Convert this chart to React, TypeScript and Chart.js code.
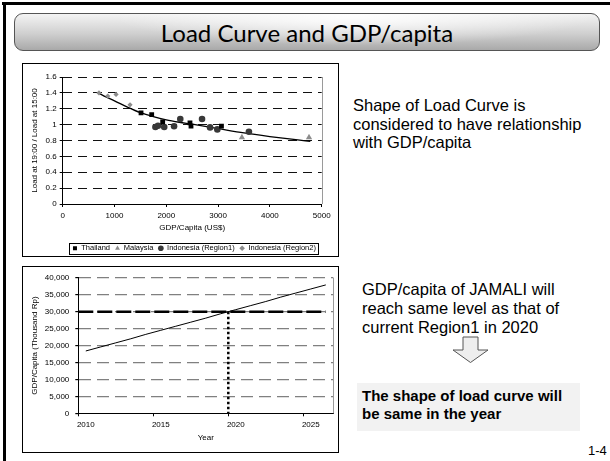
import React, { useEffect, useRef } from 'react';
import { Chart, registerables } from 'chart.js';

Chart.register(...registerables);

// ---------- Chart 1: Load ratio vs GDP/capita ----------
const legendLabels = ['Thailand', 'Malaysia', 'Indonesia (Region1)', 'Indonesia (Region2)'];
const thailandX = [1512, 1718, 1930, 2457, 2477, 3065];
const thailandY = [1.147, 1.125, 1.035, 1.022, 0.98, 0.98];
const malaysiaX = [3460, 4755];
const malaysiaY = [0.84, 0.84];
const region1X = [1790, 1840, 1960, 2150, 2270, 2690, 2845, 2985, 3595];
const region1Y = [0.97, 0.985, 0.97, 0.98, 1.07, 1.07, 0.965, 0.94, 0.91];
const region2X = [700, 870, 1030, 1300];
const region2Y = [1.4, 1.36, 1.38, 1.25];
const trendX = [680, 800, 1000, 1250, 1500, 1750, 2000, 2250, 2500, 3000, 3500, 4000, 4500, 4780];
const trendY = [1.4, 1.36, 1.3, 1.22, 1.15, 1.1, 1.06, 1.03, 1.005, 0.95, 0.895, 0.85, 0.81, 0.79];
const xTicks1 = [0, 1000, 2000, 3000, 4000, 5000];
const yTicks1 = [0, 0.2, 0.4, 0.6, 0.8, 1, 1.2, 1.4, 1.6];

// ---------- Chart 2: GDP/capita projection ----------
const years = [2010, 2011, 2012, 2013, 2014, 2015, 2016, 2017, 2018, 2019, 2020, 2021, 2022, 2023, 2024, 2025, 2026];
const gdpValues = [18400, 19600, 20800, 22000, 23300, 24500, 25700, 26900, 28100, 29400, 30600, 31800, 33000, 34300, 35500, 36700, 37900];
const labeledYears = [2010, 2015, 2020, 2025];
const yTicks2 = [0, 5000, 10000, 15000, 20000, 25000, 30000, 35000, 40000];
const levelValue = 30000;
const levelX = [2009.5, 2026];
const crossYear = 2019.5;

const pts = (xs: number[], ys: number[]) => xs.map((x, i) => ({ x, y: ys[i] }));

const FONT_FAMILY = "'Liberation Sans', Arial, sans-serif";
const font = { family: FONT_FAMILY, size: 8 };

const rightBorderPlugin = {
  id: 'rightBorder',
  beforeDatasetsDraw(chart: any) {
    const { ctx, chartArea } = chart;
    ctx.save();
    ctx.strokeStyle = '#9a9a9a';
    ctx.lineWidth = 1;
    ctx.beginPath();
    ctx.moveTo(Math.round(chartArea.right) + 0.5, chartArea.top);
    ctx.lineTo(Math.round(chartArea.right) + 0.5, chartArea.bottom);
    ctx.stroke();
    ctx.restore();
  },
};

const legendBoxPlugin = {
  id: 'legendBox',
  afterLayout(chart: any) {
    const lg = chart.legend;
    if (lg && chart.chartArea) {
      lg.left = chart.chartArea.left + 2;
      lg.right = chart.chartArea.right + 2;
    }
  },
  afterDraw(chart: any) {
    const lg = chart.legend;
    if (!lg || !lg.legendHitBoxes || !lg.legendHitBoxes.length) return;
    const hb = lg.legendHitBoxes;
    const left = Math.min(...hb.map((h: any) => h.left)) - 3;
    const right = Math.max(...hb.map((h: any) => h.left + h.width)) + 3;
    const top = hb[0].top - 1.5;
    const bottom = hb[0].top + hb[0].height + 1.5;
    const { ctx } = chart;
    ctx.save();
    ctx.strokeStyle = '#000';
    ctx.lineWidth = 1;
    ctx.strokeRect(Math.round(left) + 0.5, Math.round(top) + 0.5, Math.round(right - left), Math.round(bottom - top));
    ctx.restore();
  },
};

function LoadChart() {
  const ref = useRef<HTMLCanvasElement | null>(null);
  useEffect(() => {
    if (!ref.current) return;
    const chart = new Chart(ref.current, {
      type: 'scatter',
      data: {
        datasets: [
          { label: legendLabels[0], data: pts(thailandX, thailandY), pointStyle: 'rect', pointRadius: 3.4, backgroundColor: '#000', borderColor: '#000', borderWidth: 0 },
          { label: legendLabels[1], data: pts(malaysiaX, malaysiaY), pointStyle: 'triangle', pointRadius: 3.6, backgroundColor: '#8c8c8c', borderColor: '#8c8c8c', borderWidth: 0 },
          { label: legendLabels[2], data: pts(region1X, region1Y), pointStyle: 'circle', pointRadius: 3.3, backgroundColor: '#383838', borderColor: '#383838', borderWidth: 0 },
          { label: legendLabels[3], data: pts(region2X, region2Y), pointStyle: 'rectRot', pointRadius: 2.6, backgroundColor: '#8c8c8c', borderColor: '#8c8c8c', borderWidth: 0 },
          { type: 'line', label: 'trend', data: pts(trendX, trendY), borderColor: '#000', borderWidth: 1.3, pointRadius: 0, tension: 0.4, cubicInterpolationMode: 'monotone', fill: false } as any,
        ],
      },
      options: {
        animation: false,
        responsive: true,
        maintainAspectRatio: false,
        layout: { padding: { left: 0, right: 16.3, top: 13, bottom: 0 } },
        plugins: {
          tooltip: { enabled: false },
          legend: {
            position: 'bottom',
            align: 'center',
            labels: {
              font: { family: FONT_FAMILY, size: 7.5 },
              color: '#000',
              usePointStyle: true,
              boxWidth: 5,
              boxHeight: 4,
              padding: 5,
              filter: (item: any) => item.datasetIndex < 4,
            },
          },
        },
        scales: {
          x: {
            type: 'linear',
            min: 0,
            max: 5000,
            afterBuildTicks: (s: any) => { s.ticks = xTicks1.map((v) => ({ value: v })); },
            afterFit: (s: any) => { s.height = 35.5; },
            ticks: { font, color: '#000', padding: 4.2, maxRotation: 0, callback: (v: any) => String(v) },
            grid: { drawOnChartArea: false, tickLength: 3, color: '#000' },
            border: { color: '#000', width: 1 },
            title: { display: true, text: 'GDP/Capita (US$)', font, color: '#000', padding: { top: 0, bottom: 6.7 } },
          },
          y: {
            type: 'linear',
            min: 0,
            max: 1.6,
            afterBuildTicks: (s: any) => { s.ticks = yTicks1.map((v) => ({ value: v })); },
            afterFit: (s: any) => { s.width = 39.7; },
            ticks: { font, color: '#000', padding: 3, callback: (v: any) => String(v) },
            grid: {
              color: (c: any) => (c.tick && c.tick.value === 0 ? 'rgba(0,0,0,0)' : '#111'),
              tickColor: '#000',
              tickLength: 3,
              lineWidth: 1,
            },
            border: { color: '#000', width: 1, dash: [9, 6] },
            title: { display: true, text: 'Load at 19:00 / Load at 15:00', font, color: '#000', padding: { top: 7, bottom: 0 } },
          },
        },
      } as any,
      plugins: [rightBorderPlugin, legendBoxPlugin],
    });
    return () => chart.destroy();
  }, []);
  return <canvas ref={ref} />;
}

function GdpChart() {
  const ref = useRef<HTMLCanvasElement | null>(null);
  useEffect(() => {
    if (!ref.current) return;
    const chart = new Chart(ref.current, {
      type: 'line',
      data: {
        datasets: [
          { label: 'GDP/capita', data: pts(years, gdpValues), borderColor: '#000', borderWidth: 1, pointRadius: 0, tension: 0 },
          { label: 'Region1 level', data: pts(levelX, [levelValue, levelValue]), borderColor: '#000', borderWidth: 2.5, borderDash: [15, 4], pointRadius: 0 },
          { label: 'Crossing', data: pts([crossYear, crossYear], [levelValue, 0]), borderColor: '#000', borderWidth: 2.5, borderDash: [2.5, 2.5], pointRadius: 0 },
        ],
      },
      options: {
        animation: false,
        responsive: true,
        maintainAspectRatio: false,
        layout: { padding: { left: 0, right: 4.7, top: 10.7, bottom: 0 } },
        plugins: { legend: { display: false }, tooltip: { enabled: false } },
        scales: {
          x: {
            type: 'linear',
            min: 2009.5,
            max: 2026.5,
            afterBuildTicks: (s: any) => { s.ticks = years.map((v) => ({ value: v })); },
            afterFit: (s: any) => { s.height = 38.7; },
            ticks: {
              font, color: '#000', padding: 3.9, autoSkip: false, maxRotation: 0,
              callback: (v: any) => (labeledYears.includes(v) ? String(v) : ''),
            },
            grid: {
              offset: true,
              drawOnChartArea: false,
              tickLength: 3,
              color: (c: any) => (c.tick && labeledYears.includes(c.tick.value) ? '#000' : 'rgba(0,0,0,0)'),
            },
            border: { color: '#000', width: 1 },
            title: { display: true, text: 'Year', font, color: '#000', padding: { top: 0, bottom: 9.2 } },
          },
          y: {
            type: 'linear',
            min: 0,
            max: 40000,
            afterBuildTicks: (s: any) => { s.ticks = yTicks2.map((v) => ({ value: v })); },
            afterFit: (s: any) => { s.width = 55.3; },
            ticks: { font, color: '#000', padding: 6, callback: (v: any) => Number(v).toLocaleString('en-US') },
            grid: {
              color: (c: any) => (c.tick && c.tick.value === 0 ? 'rgba(0,0,0,0)' : '#808080'),
              tickColor: '#000',
              tickLength: 3,
              lineWidth: 1.2,
            },
            border: { color: '#000', width: 1, dash: [12, 6] },
            title: { display: true, text: 'GDP/Capita (Thousand Rp)', font, color: '#000', padding: { top: 7, bottom: 0 } },
          },
        },
      } as any,
      plugins: [rightBorderPlugin],
    });
    return () => chart.destroy();
  }, []);
  return <canvas ref={ref} />;
}

const abs = (l: number, t: number, w: number, h: number): React.CSSProperties => ({ position: 'absolute', left: l, top: t, width: w, height: h });

export default function App() {
  const text: React.CSSProperties = { position: 'absolute', fontFamily: FONT_FAMILY, color: '#000', whiteSpace: 'nowrap' };
  return (
    <div style={{ position: 'absolute', left: 0, top: 0, width: 610, height: 461, overflow: 'hidden', background: '#fff' }}>
      {/* slide frame */}
      <div style={{ ...abs(2, 2, 608, 2.5), background: '#000' }} />
      <div style={{ ...abs(3, 2, 2.5, 459), background: '#000' }} />

      {/* title bar */}
      <div
        style={{
          ...abs(14, 13, 586, 38),
          boxSizing: 'border-box',
          border: '1px solid #555',
          borderRadius: 9,
          background:
            'radial-gradient(ellipse 55% 110% at 58% 5%, rgba(255,255,255,0.95) 0%, rgba(255,255,255,0) 75%), linear-gradient(180deg, #f4f4f4 0%, #cfcfcf 55%, #a9a9a9 100%)',
          display: 'flex',
          alignItems: 'center',
          justifyContent: 'center',
          fontFamily: 'Lato, sans-serif',
          fontSize: 24,
          color: '#000',
        }}
      >
        Load Curve and GDP/capita
      </div>

      {/* panel 1 */}
      <div style={{ ...abs(22, 63, 317, 194), boxSizing: 'border-box', border: '1.5px solid #000' }} />
      <div style={abs(23, 64, 315, 198)}>
        <LoadChart />
      </div>

      {/* panel 2 */}
      <div style={{ ...abs(22, 266, 317, 187), boxSizing: 'border-box', border: '1.5px solid #000' }} />
      <div style={abs(23, 267, 315, 185)}>
        <GdpChart />
      </div>

      {/* right texts */}
      <div style={{ ...text, left: 353, top: 96, fontSize: 16.5, lineHeight: '18.5px' }}>
        Shape of Load Curve is
        <br />
        considered to have relationship
        <br />
        with GDP/capita
      </div>
      <div style={{ ...text, left: 362, top: 280, fontSize: 16.5, lineHeight: '19px' }}>
        GDP/capita of JAMALI will
        <br />
        reach same level as that of
        <br />
        current Region1 in 2020
      </div>

      <svg style={abs(452, 336, 38, 28)} viewBox="0 0 38 28">
        <path d="M11 1 H26 V14 H36 L18.5 26.5 L1 14 H11 Z" fill="#eeeeee" stroke="#555" strokeWidth="1" />
      </svg>

      <div style={{ ...abs(357, 383, 223, 48), background: '#f2f2f2' }} />
      <div style={{ ...text, left: 362, top: 387, fontSize: 15, lineHeight: '18px', fontWeight: 'bold' }}>
        The shape of load curve will
        <br />
        be same in the year
      </div>

      <div style={{ ...text, left: 588, top: 443, fontSize: 13 }}>1-4</div>
    </div>
  );
}
